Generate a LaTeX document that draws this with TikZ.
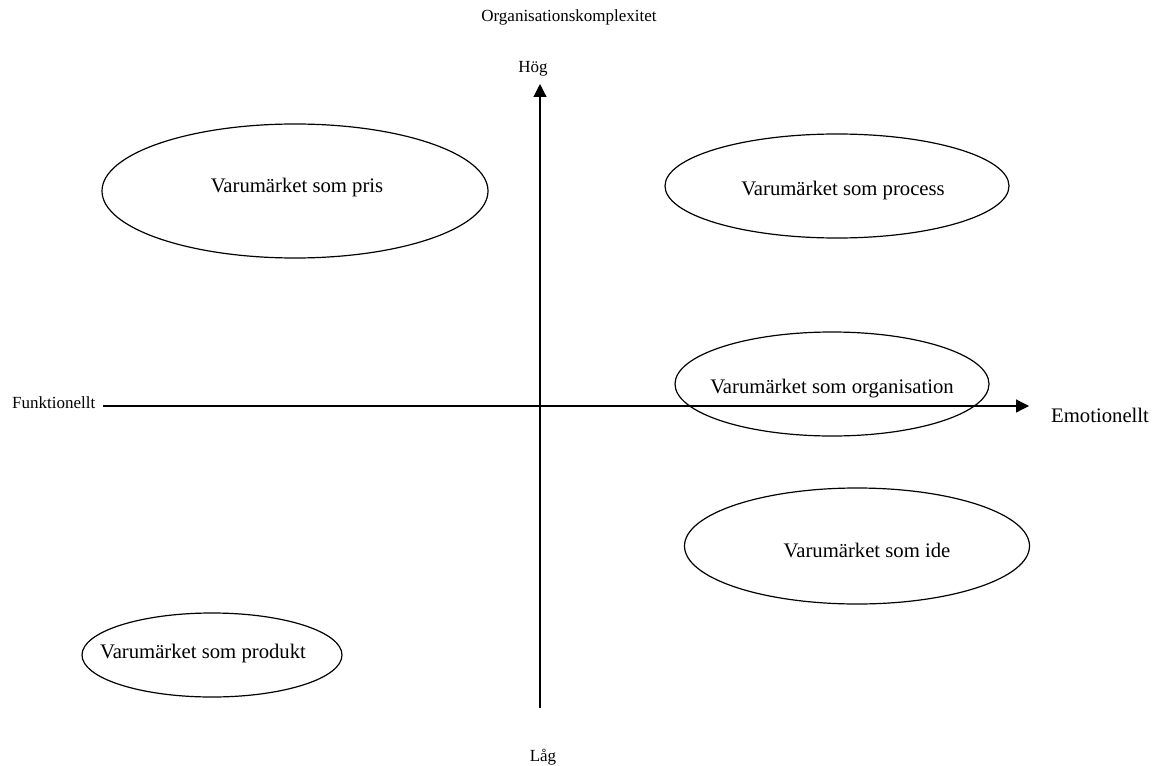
\documentclass[tikz,border=0pt]{standalone}
\usepackage{fontspec}
\setmainfont{Liberation Serif}
\usetikzlibrary{shapes.geometric,arrows.meta}
\begin{document}
\begin{tikzpicture}[x=1pt,y=-1pt,
  oval/.style={draw=black,line width=1.2pt,shape=ellipse,inner sep=0pt},
  biglbl/.style={font=\fontsize{20.7}{24}\selectfont,anchor=base,inner sep=0pt},
  smalllbl/.style={font=\fontsize{17}{20}\selectfont,anchor=base,inner sep=0pt},
  axis/.style={line width=1.2pt,-{Triangle[length=13pt,width=13pt]}}]
\useasboundingbox (0,0) rectangle (1155,765);

% quadrant axes
\coordinate (xstart) at (103,406);
\coordinate (xend) at (1029,406);
\coordinate (ystart) at (540,708);
\coordinate (yend) at (540,84);
\draw[axis] (xstart) -- (xend);
\draw[axis] (ystart) -- (yend);

% axis labels
\node[smalllbl] (komplex) at (569,22) {Organisationskomplexitet};
\node[smalllbl] (hog) at (533,73) {Hög};
\node[smalllbl] (lag) at (543,761) {Låg};
\node[smalllbl,anchor=base west] (funk) at (12,408) {Funktionellt};
\node[biglbl,anchor=base west] (emo) at (1051,422) {Emotionellt};

% brand positions
\node[oval,minimum width=386pt,minimum height=134pt] (pris) at (295,191) {};
\node[biglbl] (prist) at (297,192) {Varumärket som pris};

\node[oval,minimum width=344pt,minimum height=104pt] (process) at (837,186) {};
\node[biglbl] (processt) at (843,195) {Varumärket som process};

\node[oval,minimum width=314pt,minimum height=104pt] (org) at (832,384) {};
\node[biglbl] (orgt) at (832,393) {Varumärket som organisation};

\node[oval,minimum width=345pt,minimum height=116pt] (ide) at (857,546) {};
\node[biglbl] (idet) at (867,557) {Varumärket som ide};

\node[oval,minimum width=260pt,minimum height=84pt] (produkt) at (212,655) {};
\node[biglbl] (produktt) at (203,658) {Varumärket som produkt};
\end{tikzpicture}
\end{document}
